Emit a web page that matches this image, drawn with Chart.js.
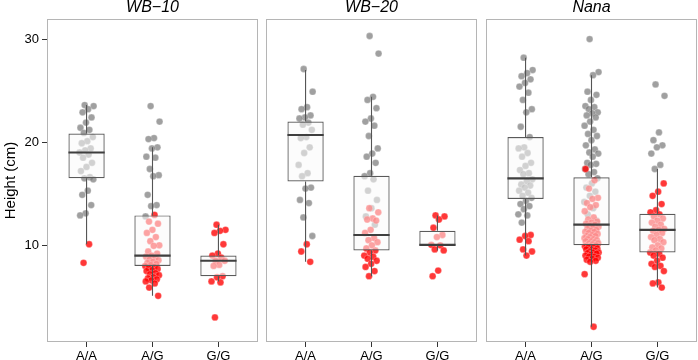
<!DOCTYPE html>
<html><head><meta charset="utf-8">
<script src="https://cdn.jsdelivr.net/npm/chart.js@4"></script>
<style>
html,body{margin:0;padding:0;background:#fff;width:698px;height:360px;overflow:hidden}
canvas{position:absolute;top:0}
</style></head><body>
<canvas id="c0" width="259" height="360" style="left:0px"></canvas>
<canvas id="c1" width="213" height="360" style="left:265px"></canvas>
<canvas id="c2" width="213" height="360" style="left:485px"></canvas>
<script>
// ---------- data ----------
const categories = ['A/A', 'A/G', 'G/G'];
const panelTitles = ['WB\u221210', 'WB\u221220', 'Nana'];
const yTicks = [10, 20, 30];
const yLabel = 'Height (cm)';

// WB-10
const wb10Gray = [
  [23.6, 23.5, 23.2, 22.9, 22.4, 21.9, 21.4, 21.2, 20.9, 20.5, 20.1, 19.9, 19.4, 19.2, 19.0, 18.8, 18.5, 18.0, 17.6, 17.2, 16.6, 16.5, 16.4, 15.3, 14.9, 13.9, 13.1, 12.9],
  [23.5, 22.0, 20.4, 20.3, 19.5, 19.4, 18.6, 18.5, 17.4, 16.8, 16.7, 14.9, 13.9, 13.8, 12.8],
  []
];
const wb10Red = [
  [10.1, 8.3],
  [12.95, 12.3, 12.1, 11.5, 11.2, 10.8, 10.4, 10.0, 9.95, 9.4, 9.2, 9.0, 8.9, 8.8, 8.6, 8.55, 8.4, 8.3, 8.2, 8.1, 8.0, 7.9, 7.8, 7.7, 7.6, 7.5, 7.3, 7.2, 7.1, 6.9, 6.8, 6.7, 6.6, 6.5, 6.3, 5.9, 5.1],
  [12.0, 11.5, 11.4, 11.2, 10.1, 9.2, 9.0, 8.8, 8.5, 8.5, 8.1, 8.0, 7.0, 6.9, 6.5, 6.4, 3.0]
];
const wb10Low  = [10.1, 5.1, 6.5];
const wb10Q1   = [16.5, 8.0, 7.0];
const wb10Med  = [19.0, 9.0, 8.5];
const wb10Q3   = [20.85, 12.9, 9.0];
const wb10High = [23.6, 19.5, 12.0];

// WB-20
const wb20Gray = [
  [27.1, 24.9, 23.4, 23.2, 22.6, 22.4, 22.3, 21.9, 21.7, 21.2, 20.5, 20.4, 19.5, 18.95, 17.8, 17.0, 16.7, 15.6, 15.5, 14.4, 14.1, 12.7, 10.9],
  [30.3, 28.6, 24.4, 24.1, 23.3, 22.3, 22.0, 21.6, 20.6, 19.4, 18.9, 18.6, 18.0, 17.0, 16.7, 16.4, 15.3, 14.4, 13.6, 12.8, 12.0],
  []
];
const wb20Red = [
  [10.1, 9.4, 8.4],
  [13.6, 13.2, 12.6, 12.5, 12.4, 11.5, 11.2, 10.7, 10.5, 10.3, 10.0, 9.7, 9.5, 9.3, 9.0, 8.9, 8.7, 8.5, 8.2, 7.9, 7.5, 7.0],
  [12.9, 12.8, 12.5, 11.7, 11.0, 10.8, 10.05, 10.0, 9.6, 9.5, 7.55, 7.0]
];
const wb20Low  = [8.4, 7.0, 9.5];
const wb20Q1   = [16.2, 9.5, 9.95];
const wb20Med  = [20.7, 11.0, 10.05];
const wb20Q3   = [22.0, 16.75, 11.4];
const wb20High = [27.0, 24.4, 12.9];

// Nana
const nanaGray = [
  [28.2, 27.0, 26.7, 26.4, 26.1, 25.75, 25.4, 24.8, 24.1, 23.2, 22.9, 21.5, 20.5, 19.5, 19.4, 18.95, 18.6, 18.0, 17.7, 17.3, 17.0, 16.9, 16.4, 16.2, 15.9, 15.8, 15.6, 15.3, 15.1, 14.8, 14.6, 14.3, 14.0, 13.8, 13.5, 13.0, 12.9, 12.2],
  [30.0, 26.8, 26.5, 24.9, 24.6, 24.1, 23.5, 23.4, 23.2, 22.9, 22.8, 22.6, 22.4, 22.0, 21.6, 21.2, 20.8, 20.6, 20.2, 19.7, 19.3, 19.0, 18.9, 18.6, 18.0, 17.9, 17.8, 17.4, 17.1, 16.9, 16.5, 16.0, 15.6, 15.2, 14.8, 14.2, 13.6, 13.0, 12.4, 11.5],
  [25.6, 24.5, 20.95, 20.2, 19.7, 19.5, 18.9, 17.8, 17.4]
];
const nanaRed = [
  [11.0, 10.9, 10.55, 10.4, 9.6, 9.4, 9.0],
  [17.4, 16.3, 15.5, 14.6, 14.5, 14.1, 13.9, 13.7, 13.3, 12.7, 12.5, 12.3, 12.2, 12.1, 12.0, 11.9, 11.8, 11.7, 11.6, 11.5, 11.4, 11.3, 11.3, 11.2, 11.1, 11.0, 10.9, 10.9, 10.8, 10.7, 10.6, 10.6, 10.5, 10.4, 10.4, 10.3, 10.2, 10.2, 10.1, 10.0, 10.0, 9.9, 9.9, 9.8, 9.8, 9.7, 9.6, 9.6, 9.5, 9.4, 9.3, 9.3, 9.25, 9.2, 9.1, 9.0, 8.9, 8.9, 8.8, 8.7, 8.6, 8.5, 8.4, 7.2, 2.1],
  [16.0, 15.2, 14.8, 14.0, 13.4, 13.2, 13.0, 12.8, 12.6, 12.4, 12.2, 12.0, 11.8, 11.6, 11.5, 11.4, 11.2, 11.0, 10.8, 10.6, 10.5, 10.3, 10.0, 9.8, 9.7, 9.5, 9.3, 9.2, 9.0, 8.8, 8.5, 8.2, 8.0, 7.9, 7.5, 6.4, 6.3, 5.9]
];
const nanaLow  = [9.0, 2.1, 5.9];
const nanaQ1   = [14.5, 10.0, 9.3];
const nanaMed  = [16.5, 12.0, 11.5];
const nanaQ3   = [20.5, 16.6, 13.05];
const nanaHigh = [28.2, 26.5, 17.4];

// ---------- styles ----------
const FONT = "'Liberation Sans', Arial, Helvetica, sans-serif";
const Y_MIN = 0.62, Y_MAX = 31.95;
const X_MIN = 0.4, X_MAX = 3.6;
const BOX_W = 0.55;
const GRAY = 'rgba(120,120,120,0.7)';
const RED = 'rgba(255,0,0,0.78)';
const jit = (i) => ((((i * 0.618034) + 0.37) % 1) - 0.5) * 0.22;

Chart.defaults.font.family = FONT;
Chart.defaults.color = '#000';

const panelBorder = {
  id: 'panelBorder',
  afterDatasetsDraw(chart) {
    const a = chart.chartArea, ctx = chart.ctx;
    ctx.save();
    ctx.strokeStyle = '#b5b5b5';
    ctx.lineWidth = 1;
    ctx.strokeRect(Math.round(a.left) + 0.5, Math.round(a.top) + 0.5, Math.round(a.right - a.left) - 1, Math.round(a.bottom - a.top) - 1);
    ctx.restore();
  }
};

function makePanel(canvasId, title, gray, red, low, q1, med, q3, high, showY) {
  const grayPts = [], redPts = [];
  gray.forEach((arr, c) => arr.forEach((v, i) => grayPts.push({x: c + 1 + jit(i), y: v})));
  red.forEach((arr, c) => arr.forEach((v, i) => redPts.push({x: c + 1 + jit(i + gray[c].length), y: v})));
  const boxes = categories.map((_, c) => ({x: c + 1, y: [q1[c], q3[c]]}));
  const whiskers = [];
  const medians = [];
  categories.forEach((_, c) => {
    whiskers.push({x: c + 1, y: low[c]}, {x: c + 1, y: q1[c]}, {x: c + 1, y: null},
                  {x: c + 1, y: q3[c]}, {x: c + 1, y: high[c]}, {x: c + 1, y: null});
    medians.push({x: c + 1 - BOX_W / 2, y: med[c]}, {x: c + 1 + BOX_W / 2, y: med[c]}, {x: c + 1, y: null});
  });

  new Chart(document.getElementById(canvasId), {
    type: 'bar',
    data: {
      datasets: [
        {type: 'line', data: medians, borderColor: '#3f3f3f', borderWidth: 2.2, pointRadius: 0, spanGaps: false, tension: 0, order: 0},
        {type: 'line', data: whiskers, borderColor: '#555', borderWidth: 1.1, pointRadius: 0, spanGaps: false, tension: 0, order: 1},
        {type: 'bar', data: boxes, backgroundColor: 'rgba(250,250,250,0.55)', borderColor: '#5a5a5a', borderWidth: 1.2,
         borderSkipped: false, barPercentage: BOX_W, categoryPercentage: 1, order: 2},
        {type: 'scatter', data: redPts, backgroundColor: RED, borderColor: 'rgba(255,255,255,0.45)', borderWidth: 0.6, pointRadius: 3.4, order: 3},
        {type: 'scatter', data: grayPts, backgroundColor: GRAY, borderColor: 'rgba(255,255,255,0.45)', borderWidth: 0.6, pointRadius: 3.4, order: 4}
      ]
    },
    options: {
      responsive: false,
      animation: false,
      events: [],
      layout: {autoPadding: false, padding: {left: showY ? 0 : 1, right: 1, top: 0, bottom: 0}},
      plugins: {
        legend: {display: false},
        tooltip: {enabled: false},
        title: {display: true, text: title, fullSize: false, color: '#000',
                font: {family: FONT, size: 16, style: 'italic', weight: 'normal', lineHeight: 1},
                padding: {top: 0, bottom: 3}}
      },
      scales: {
        x: {
          type: 'linear', min: X_MIN, max: X_MAX, offset: false,
          afterBuildTicks: (s) => { s.ticks = categories.map((_, c) => ({value: c + 1})); },
          afterFit: (s) => { s.height = 18; },
          ticks: {callback: (v) => categories[Math.round(v) - 1] || '', font: {size: 13}, color: '#000', padding: 2, maxRotation: 0, autoSkip: false},
          grid: {display: true, offset: false, drawOnChartArea: false, drawTicks: true, tickLength: 5, tickColor: '#333', tickWidth: 1},
          border: {display: false}
        },
        y: {
          type: 'linear', min: Y_MIN, max: Y_MAX, display: showY,
          afterBuildTicks: (s) => { s.ticks = yTicks.map(v => ({value: v})); },
          afterFit: (s) => { s.width = showY ? 47 : 0; },
          ticks: {font: {size: 13}, color: '#000', padding: 3},
          grid: {display: true, drawOnChartArea: false, drawTicks: true, tickLength: 5, tickColor: '#333', tickWidth: 1},
          border: {display: false},
          title: {display: showY, text: yLabel, font: {size: 15}, color: '#000', padding: {top: 2, bottom: 0}}
        }
      }
    },
    plugins: [panelBorder]
  });
}

makePanel('c0', panelTitles[0], wb10Gray, wb10Red, wb10Low, wb10Q1, wb10Med, wb10Q3, wb10High, true);
makePanel('c1', panelTitles[1], wb20Gray, wb20Red, wb20Low, wb20Q1, wb20Med, wb20Q3, wb20High, false);
makePanel('c2', panelTitles[2], nanaGray, nanaRed, nanaLow, nanaQ1, nanaMed, nanaQ3, nanaHigh, false);
</script>
</body></html>
